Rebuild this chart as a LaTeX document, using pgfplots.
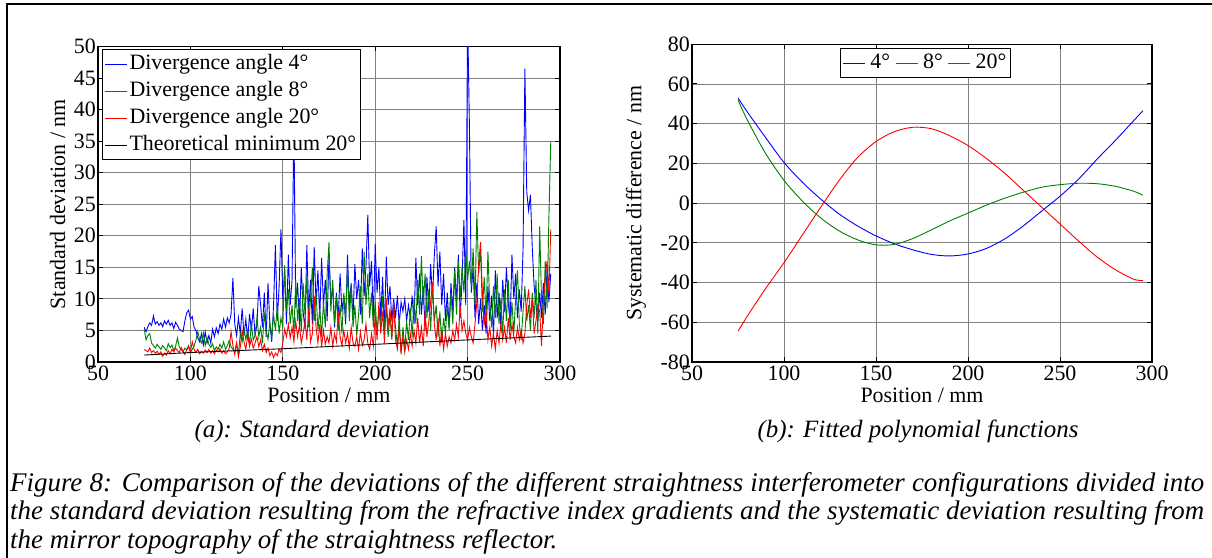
\documentclass[border=0pt]{standalone}
\usepackage{pgfplots}
\pgfplotsset{compat=1.18}
\usepackage{pgfplotstable}
\usepackage{fontspec}
\setmainfont{Liberation Serif}

\pgfplotstableread{
x b g r
75 5.5 5.2 2.0
76 4.8 3.5 1.8
77 5.6 4.2 1.6
78 6.2 4.5 2.2
79 5.8 3.0 1.5
80 7.3 2.6 1.8
81 6.0 2.2 1.4
82 6.4 2.8 1.7
83 5.8 2.4 1.2
84 6.2 2.0 1.6
85 5.6 2.6 0.9
86 6.5 2.2 1.4
87 6.0 1.8 1.1
88 6.6 2.9 1.8
89 5.8 2.3 1.3
90 6.2 2.7 2.0
91 5.3 1.8 1.6
92 6.3 2.5 2.2
93 5.8 3.8 1.8
94 5.2 2.4 1.5
95 5.0 2.0 2.3
96 4.8 1.6 1.7
97 6.5 2.2 1.2
98 7.8 1.9 1.9
99 8.2 2.6 2.4
100 6.8 1.5 1.6
101 7.2 2.0 3.2
102 5.5 2.5 2.0
103 5.0 3.5 1.5
104 3.8 4.8 2.0
105 3.2 3.6 1.3
106 4.5 3.0 1.7
107 2.7 4.6 1.4
108 4.8 2.6 1.9
109 3.0 3.9 1.5
110 4.2 2.8 2.0
111 3.0 2.3 1.4
112 5.2 2.9 1.8
113 4.0 1.8 1.3
114 5.4 2.4 1.9
115 4.5 2.0 1.6
116 6.0 2.8 2.1
117 5.2 2.2 1.4
118 6.8 3.2 1.8
119 5.5 2.0 1.3
120 7.0 2.6 1.6
121 6.2 3.4 2.2
122 7.6 2.4 4.8
123 13.3 2.0 2.6
124 6.0 1.6 1.2
125 4.2 3.0 3.0
126 7.0 1.2 0.8
127 4.5 4.5 2.4
128 8.5 3.2 5.0
129 4.2 5.2 3.2
130 6.8 3.6 2.0
131 3.5 5.0 4.2
132 7.6 2.8 2.5
133 5.0 6.0 3.6
134 8.5 3.5 2.2
135 4.2 4.2 3.0
136 6.0 7.0 4.0
137 12.0 4.0 2.4
138 9.0 5.5 3.5
139 5.5 3.0 1.8
140 11.0 7.8 2.8
141 4.0 5.0 1.5
142 12.5 3.6 2.2
143 6.0 6.2 1.0
144 3.2 4.0 1.6
145 9.0 7.5 0.7
146 18.5 5.0 1.4
147 6.5 9.0 1.0
148 12.0 4.5 2.0
149 21.0 7.0 1.5
150 10.0 5.5 3.0
151 14.5 15.3 5.2
152 6.0 8.0 4.0
153 17.0 11.5 6.0
154 9.0 6.0 3.8
155 13.0 9.0 5.5
156 38.0 4.5 3.2
157 8.5 13.0 6.5
158 12.5 6.5 4.0
159 6.0 10.0 5.8
160 15.0 4.8 3.0
161 8.0 12.5 4.5
162 5.2 7.5 6.5
163 18.5 13.5 3.5
164 8.0 5.5 8.5
165 13.0 10.0 3.2
166 6.0 15.0 4.5
167 18.2 6.5 10.5
168 9.0 11.0 5.5
169 14.5 5.0 3.0
170 7.0 8.5 6.0
171 16.5 4.0 2.5
172 9.0 9.5 5.0
173 13.0 5.5 2.8
174 6.5 14.0 4.0
175 17.0 19.0 3.0
176 9.5 8.0 5.5
177 12.0 13.0 2.5
178 5.5 6.0 4.5
179 11.0 10.5 3.2
180 7.0 5.0 8.0
181 14.0 9.0 4.0
182 8.0 4.5 2.6
183 10.5 11.0 5.0
184 6.0 7.0 3.0
185 17.0 15.0 4.5
186 9.0 6.5 2.2
187 12.5 12.0 5.5
188 7.0 5.5 3.0
189 15.5 9.0 2.5
190 10.0 4.2 4.0
191 13.0 7.5 2.0
192 7.5 12.0 4.8
193 18.0 6.0 2.6
194 10.5 17.5 3.5
195 15.0 9.0 6.0
196 23.3 14.0 3.0
197 12.0 7.0 2.0
198 16.0 11.0 4.5
199 6.5 5.5 2.5
200 18.7 9.5 7.5
201 11.0 4.5 3.5
202 15.0 8.0 9.5
203 7.0 6.0 4.5
204 13.5 10.5 8.0
205 5.0 5.0 3.0
206 16.7 8.5 10.0
207 9.0 4.0 5.5
208 12.0 7.5 8.5
209 6.5 3.5 4.0
210 10.0 9.0 9.5
211 7.0 5.5 3.5
212 10.5 2.5 2.0
213 6.0 7.0 5.5
214 9.5 1.2 1.5
215 8.0 5.5 4.0
216 10.0 2.0 1.5
217 6.5 6.5 3.5
218 9.0 3.5 2.0
219 7.0 8.5 4.5
220 10.5 4.0 2.5
221 6.0 10.0 5.0
222 16.5 6.0 3.0
223 9.0 13.0 7.0
224 14.0 7.5 3.0
225 7.5 16.8 5.5
226 12.0 9.0 2.5
227 5.0 14.0 8.0
228 13.5 7.0 4.0
229 8.0 11.5 6.5
230 15.5 5.0 9.5
231 10.0 12.0 12.6
232 17.0 6.5 6.0
233 21.5 9.0 3.5
234 12.0 4.0 7.0
235 17.5 8.0 2.5
236 9.0 3.0 5.0
237 14.0 7.0 2.0
238 6.5 4.5 4.5
239 11.0 9.0 2.5
240 5.5 5.0 4.0
241 12.5 11.0 3.0
242 8.0 6.0 5.0
243 15.0 14.5 3.5
244 9.5 7.5 6.0
245 17.0 16.0 4.0
246 7.0 10.0 9.0
247 13.0 15.0 5.0
248 22.5 11.0 6.5
249 9.0 17.5 4.5
250 55.0 13.0 3.5
251 37.0 16.0 5.5
252 11.0 12.0 4.0
253 15.0 18.0 3.0
254 7.0 9.0 6.0
255 12.5 23.8 9.5
256 6.0 14.0 15.5
257 10.0 18.0 19.0
258 5.0 8.0 11.0
259 9.0 13.5 6.0
260 4.5 7.0 8.0
261 12.0 17.5 3.5
262 6.5 9.0 5.5
263 10.5 5.5 2.5
264 4.0 12.0 4.5
265 14.5 7.0 2.0
266 7.0 14.0 5.0
267 11.0 6.0 3.0
268 5.5 10.0 6.0
269 13.0 4.5 3.5
270 8.0 11.5 5.5
271 15.0 6.5 3.0
272 9.5 13.0 7.0
273 6.0 5.0 3.5
274 17.0 9.5 6.0
275 10.0 4.5 4.0
276 14.0 10.0 3.0
277 7.0 14.5 5.5
278 11.5 6.0 3.5
279 8.0 3.5 5.0
280 18.0 8.0 3.0
281 46.5 12.0 4.5
282 27.0 6.5 9.0
283 24.0 9.0 11.5
284 26.5 5.0 7.0
285 18.0 11.0 10.0
286 12.0 7.0 4.5
287 9.0 13.0 6.5
288 6.5 4.5 9.0
289 11.0 21.5 8.0
290 7.0 10.0 2.5
291 12.5 6.0 9.5
292 7.5 16.0 13.5
293 15.0 8.5 16.0
294 9.5 23.0 11.0
295 14.0 35.0 21.0
}\sdtable

\pgfplotstableread{
x b g r
75 53.0 52.0 -64.5
80 46.0 42.0 -57.0
90 33.0 25.0 -43.0
100 20.5 11.5 -30.0
110 10.5 1.0 -16.0
120 2.0 -7.5 -2.0
130 -5.5 -14.0 11.5
140 -11.5 -18.5 23.0
150 -16.5 -21.0 31.0
160 -20.5 -20.8 36.0
170 -23.5 -17.8 38.2
180 -25.8 -13.5 37.5
190 -26.6 -9.0 34.0
200 -25.6 -5.0 29.0
210 -22.8 -1.0 22.5
220 -18.0 2.5 15.0
230 -11.5 5.5 6.5
240 -4.0 8.0 -2.0
250 3.5 9.3 -10.5
260 12.0 10.0 -19.0
270 22.0 9.8 -27.0
280 31.5 8.5 -33.5
290 41.5 6.0 -38.3
295 46.5 4.0 -39.0
}\fittable

\definecolor{mblue}{RGB}{0,0,255}
\definecolor{mgreen}{RGB}{0,128,0}
\definecolor{mred}{RGB}{255,0,0}

\newcommand{\tf}{\fontsize{22}{24}\selectfont}
\newcommand{\cf}{\itshape\fontsize{27}{29}\selectfont}

\pgfplotsset{
  mstyle/.style={
    scale only axis,
    grid=major,
    grid style={color=black!50, line width=0.9bp},
    axis line style={line width=1.3bp},
    tick style={black, line width=1bp},
    major tick length=5bp,
    tick align=inside,
    xtick pos=both, ytick pos=both,
    tick label style={font=\tf},
    yticklabel style={inner xsep=2bp},
    label style={font=\tf},
    /pgf/number format/assume math mode=true,
    xmin=50, xmax=300,
    xtick={50,100,...,300},
    legend cell align=left,
    legend image code/.code={\draw[##1] (0bp,0bp) -- (22bp,0bp);},
    legend style={font=\tf, fill=white, draw=black, line width=1.2bp,
      inner xsep=2bp, inner ysep=1bp,
      nodes={inner xsep=2bp, inner ysep=3.5bp, text height=15bp, text depth=5bp}},
    xlabel style={at={(axis description cs:0.5,0)}, anchor=base, yshift=-41bp},
  }
}

\begin{document}
\begin{tikzpicture}[x=1bp,y=1bp]
\path[use as bounding box] (0,0) rectangle (1212,558);
\draw[line width=2bp] (7,-10) -- (7,553.7) -- (1230,553.7);

\begin{axis}[mstyle,
  at={(98bp,196bp)}, anchor=south west,
  width=462bp, height=315.5bp,
  ymin=0, ymax=50, ytick={0,5,...,50},
  xlabel={Position / mm},
  ylabel={Standard deviation / nm},
  ylabel style={at={(axis description cs:-0.0714,0.5)}, anchor=base},
  legend style={at={(axis description cs:0.0087,0.992)}, anchor=north west},
]
\addplot[mblue, line width=0.9bp] table[x=x,y=b]{\sdtable};
\addlegendentry{Divergence angle 4°}
\addplot[mgreen, line width=0.9bp] table[x=x,y=g]{\sdtable};
\addlegendentry{Divergence angle 8°}
\addplot[mred, line width=0.9bp] table[x=x,y=r]{\sdtable};
\addlegendentry{Divergence angle 20°}
\addplot[black, line width=0.9bp] coordinates {(75,1.1) (100,1.5) (150,2.1) (200,2.8) (250,3.5) (295,4.1)};
\addlegendentry{Theoretical minimum 20°}
\end{axis}

\begin{axis}[mstyle,
  at={(692bp,196bp)}, anchor=south west,
  width=460bp, height=317.7bp,
  ymin=-80, ymax=80, ytick={-80,-60,...,80},
  xlabel={Position / mm},
  ylabel={Systematic difference / nm},
  ylabel style={at={(axis description cs:-0.11,0.5)}, anchor=base},
  legend columns=3,
  legend style={at={(axis description cs:0.3217,0.988)}, anchor=north west,
    /tikz/column sep=3bp},
]
\addplot[mblue, line width=0.9bp, smooth] table[x=x,y=b]{\fittable};
\addlegendentry{4°}
\addplot[mgreen, line width=0.9bp, smooth] table[x=x,y=g]{\fittable};
\addlegendentry{8°}
\addplot[mred, line width=0.9bp, smooth] table[x=x,y=r]{\fittable};
\addlegendentry{20°}
\end{axis}

\node[font=\itshape\fontsize{25}{29}\selectfont, anchor=base] at (312,120) {(a): Standard deviation};
\node[font=\itshape\fontsize{25}{29}\selectfont, anchor=base] at (918,120) {(b): Fitted polynomial functions};

\node[font=\cf, anchor=base west, inner sep=0pt] at (10,66) {\hbox to 1194bp{Figure 8: Comparison of the deviations of the different straightness interferometer configurations divided into}};
\node[font=\cf, anchor=base west, inner sep=0pt] at (10,38) {\hbox to 1194bp{the standard deviation resulting from the refractive index gradients and the systematic deviation resulting from}};
\node[font=\cf, anchor=base west, inner sep=0pt] at (10,9) {the mirror topography of the straightness reflector.};
\end{tikzpicture}
\end{document}
